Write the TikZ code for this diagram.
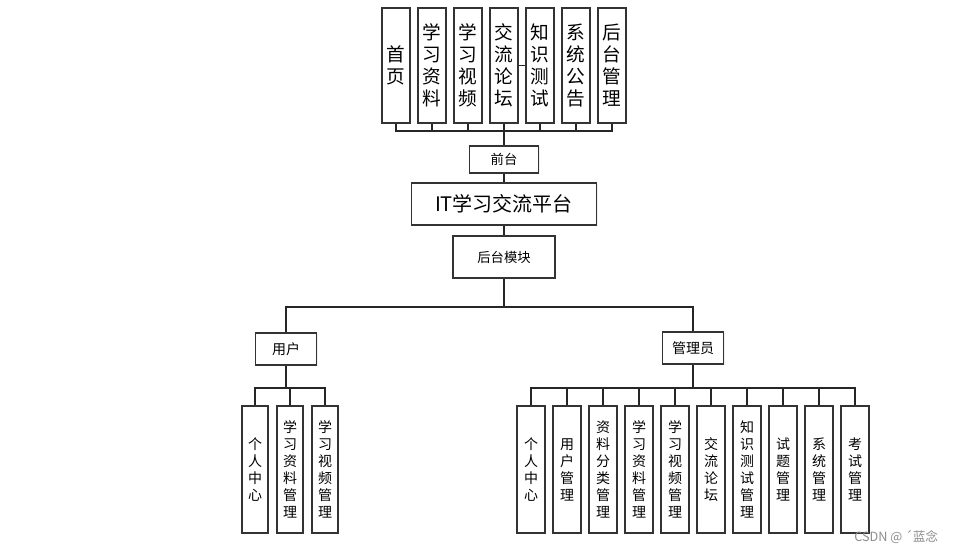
\documentclass[tikz,border=0pt]{standalone}
\usepackage{fontspec}
\setmainfont{Noto Sans CJK SC}
\usetikzlibrary{shadows}
\begin{document}
\begin{tikzpicture}[x=0.75pt,y=-0.75pt,
  box/.style={draw=black!80,line width=0.8pt,fill=white,inner sep=0pt,align=center,
    drop shadow={shadow xshift=0.8pt,shadow yshift=-0.8pt,fill=black!12}},
  topbox/.style={box,minimum width=21pt,minimum height=86.25pt,font=\fontsize{14}{16.5}\selectfont},
  botbox/.style={box,minimum width=21pt,minimum height=95.25pt,font=\fontsize{10.5}{12.75}\selectfont},
  ubox/.style={botbox,minimum width=19.5pt},
  midbox/.style={box,font=\fontsize{10}{12}\selectfont},
  conn/.style={draw=black!85,line width=0.8pt},
  spine/.style={draw=black!85,line width=1.3pt}]
\useasboundingbox (0,0) rectangle (955,552);
% top row
\node[topbox] (t1) at (396,65.5) {首\\页};
\node[topbox] (t2) at (432,65.5) {学\\习\\资\\料};
\node[topbox] (t3) at (468,65.5) {学\\习\\视\\频};
\node[topbox] (t4) at (504,65.5) {交\\流\\论\\坛};
\node[topbox] (t5) at (540,65.5) {知\\识\\测\\试};
\node[topbox] (t6) at (576,65.5) {系\\统\\公\\告};
\node[topbox] (t7) at (612,65.5) {后\\台\\管\\理};
\coordinate (tb) at (504,131);
\foreach \i in {1,...,7} {\draw[conn] (t\i.south) |- (tb);}
\draw[conn] (t4.east) -- (t5.west);
% middle
\node[midbox,minimum width=51.75pt,minimum height=20.25pt] (qt) at (504,159.5) {前台};
\node[box,minimum width=138.75pt,minimum height=31.5pt,font=\fontsize{15}{18}\selectfont] (it) at (504,204) {IT学习交流平台};
\node[midbox,minimum width=76.5pt,minimum height=31.5pt] (hb) at (504,257) {后台模块};
\draw[spine] (tb) -- (qt.north);
\draw[conn] (qt.south) -- (it.north);
\draw[conn] (it.south) -- (hb.north);
\coordinate (hbus) at (504,307);
\draw[conn] (hb.south) -- (hbus);
\node[midbox,minimum width=45.75pt,minimum height=24pt,font=\fontsize{10.5}{12}\selectfont] (user) at (286,349) {用户};
\node[midbox,minimum width=45.75pt,minimum height=24pt,font=\fontsize{10.5}{12}\selectfont] (admin) at (693,348) {管理员};
\draw[conn] (hbus) -| (user.north);
\draw[conn] (hbus) -| (admin.north);
% user children
\coordinate (ub) at (286,388);
\draw[spine] (user.south) -- (ub);
\node[ubox] (u1) at (255,469.5) {个\\人\\中\\心};
\node[ubox] (u2) at (290,469.5) {学\\习\\资\\料\\管\\理};
\node[ubox] (u3) at (325,469.5) {学\\习\\视\\频\\管\\理};
\foreach \i in {1,2,3} {\draw[conn] (ub) -| (u\i.north);}
% admin children
\coordinate (ab) at (693,388);
\draw[spine] (admin.south) -- (ab);
\node[botbox] (a1) at (531,469.5) {个\\人\\中\\心};
\node[botbox] (a2) at (567,469.5) {用\\户\\管\\理};
\node[botbox] (a3) at (603,469.5) {资\\料\\分\\类\\管\\理};
\node[botbox] (a4) at (639,469.5) {学\\习\\资\\料\\管\\理};
\node[botbox] (a5) at (675,469.5) {学\\习\\视\\频\\管\\理};
\node[botbox] (a6) at (711,469.5) {交\\流\\论\\坛};
\node[botbox] (a7) at (747,469.5) {知\\识\\测\\试\\管\\理};
\node[botbox] (a8) at (783,469.5) {试\\题\\管\\理};
\node[botbox] (a9) at (819,469.5) {系\\统\\管\\理};
\node[botbox] (a10) at (855,469.5) {考\\试\\管\\理};
\foreach \i in {1,...,10} {\draw[conn] (ab) -| (a\i.north);}
% watermark
\node[text=black!45,font=\fontsize{9.5}{11}\selectfont,anchor=west,inner sep=0pt] (wm) at (854,537) {CSDN @ ´蓝念};
\end{tikzpicture}
\end{document}
